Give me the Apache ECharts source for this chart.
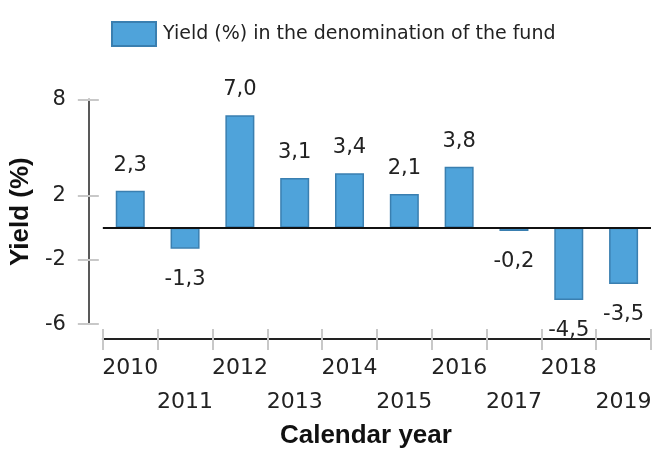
<!DOCTYPE html>
<html>
<head>
<meta charset="utf-8">
<script src="https://cdn.jsdelivr.net/npm/echarts@6/dist/echarts.min.js"></script>
<style>html,body{margin:0;padding:0;background:#fff;}#c{width:655px;height:455px;}</style>
</head>
<body>
<div id="c"></div>
<script>
const years = ['2010','2011','2012','2013','2014','2015','2016','2017','2018','2019'];
const yields = [2.3, -1.3, 7.0, 3.1, 3.4, 2.1, 3.8, -0.2, -4.5, -3.5];
const yTicks = [8, 2, -2, -6];
const yMin = -6, yMax = 8;
const seriesName = 'Yield (%) in the denomination of the fund';
const xTitle = 'Calendar year';
const yTitle = 'Yield (%)';

const barColor = '#4fa3da';
const barBorder = '#3a7fb0';
const tickColor = '#c8c8c8';
const axisColor = '#222';
const font = 'DejaVu Sans';
const boldFont = 'Liberation Sans';

const chart = echarts.init(document.getElementById('c'), null, {renderer: 'canvas'});

const fmt = v => v.toFixed(1).replace('.', ',');

const data = yields.map(v => v < 0
  ? {value: v, label: {position: 'bottom', distance: 20}}
  : {value: v});

const option = {
  animation: false,
  backgroundColor: '#fff',
  legend: {
    top: 16,
    left: 106,
    icon: 'rect',
    itemWidth: 44,
    itemHeight: 24,
    itemGap: 10,
    textStyle: {fontFamily: font, fontSize: 19, color: '#222', padding: [0, 0, 0, 2]},
    data: [seriesName]
  },
  grid: {left: 100, right: 4, top: 99.3, bottom: 126.7, containLabel: false},
  xAxis: [{
    type: 'category',
    data: years,
    position: 'bottom',
    offset: 15,
    boundaryGap: true,
    axisLine: {show: true, onZero: false, lineStyle: {color: axisColor, width: 2}},
    axisTick: {show: true, inside: false, length: 11, lineStyle: {color: tickColor, width: 2}},
    axisLabel: {
      interval: 0,
      margin: 12,
      fontFamily: font,
      fontSize: 22,
      lineHeight: 34,
      color: '#222',
      formatter: (v, i) => (i % 2 ? '\n' + v : v)
    },
    splitLine: {show: false},
    name: xTitle,
    nameLocation: 'middle',
    nameGap: 84,
    nameTextStyle: {fontFamily: boldFont, fontWeight: 'bold', fontSize: 26, color: '#111', padding: [0, 22, 0, 0]}
  }, {
    type: 'category',
    data: years,
    position: 'bottom',
    offset: 15,
    boundaryGap: true,
    axisLine: {show: false, onZero: false},
    axisTick: {show: true, inside: true, length: 10, lineStyle: {color: tickColor, width: 2}},
    axisLabel: {show: false},
    splitLine: {show: false}
  }],
  yAxis: [{
    type: 'value',
    min: yMin,
    max: yMax,
    position: 'left',
    offset: 14,
    axisLine: {show: true, onZero: false, lineStyle: {color: axisColor, width: 1.5}},
    axisTick: {show: true, inside: false, length: 11, customValues: yTicks, lineStyle: {color: tickColor, width: 2}},
    axisLabel: {
      customValues: yTicks,
      margin: 23,
      fontFamily: font,
      fontSize: 21,
      color: '#222'
    },
    splitLine: {show: false},
    name: yTitle,
    nameLocation: 'middle',
    nameRotate: 90,
    nameGap: 49,
    nameTextStyle: {fontFamily: boldFont, fontWeight: 'bold', fontSize: 26, color: '#111'}
  }, {
    type: 'value',
    min: yMin,
    max: yMax,
    position: 'left',
    offset: 14,
    axisLine: {show: false, onZero: false},
    axisTick: {show: true, inside: true, length: 10, customValues: yTicks, lineStyle: {color: tickColor, width: 2}},
    axisLabel: {show: false},
    splitLine: {show: false}
  }],
  series: [{
    name: seriesName,
    type: 'bar',
    xAxisIndex: 0,
    yAxisIndex: 0,
    barWidth: 29,
    data: data,
    itemStyle: {color: barColor, borderColor: barBorder, borderWidth: 1.5},
    label: {
      show: true,
      position: 'top',
      distance: 15,
      fontFamily: font,
      fontSize: 21,
      color: '#222',
      formatter: p => fmt(p.value)
    },
    markLine: {
      silent: true,
      symbol: ['none', 'none'],
      label: {show: false},
      lineStyle: {color: '#111', width: 2, type: 'solid'},
      data: [{yAxis: 0}]
    }
  }]
};

chart.setOption(option);
</script>
</body>
</html>
